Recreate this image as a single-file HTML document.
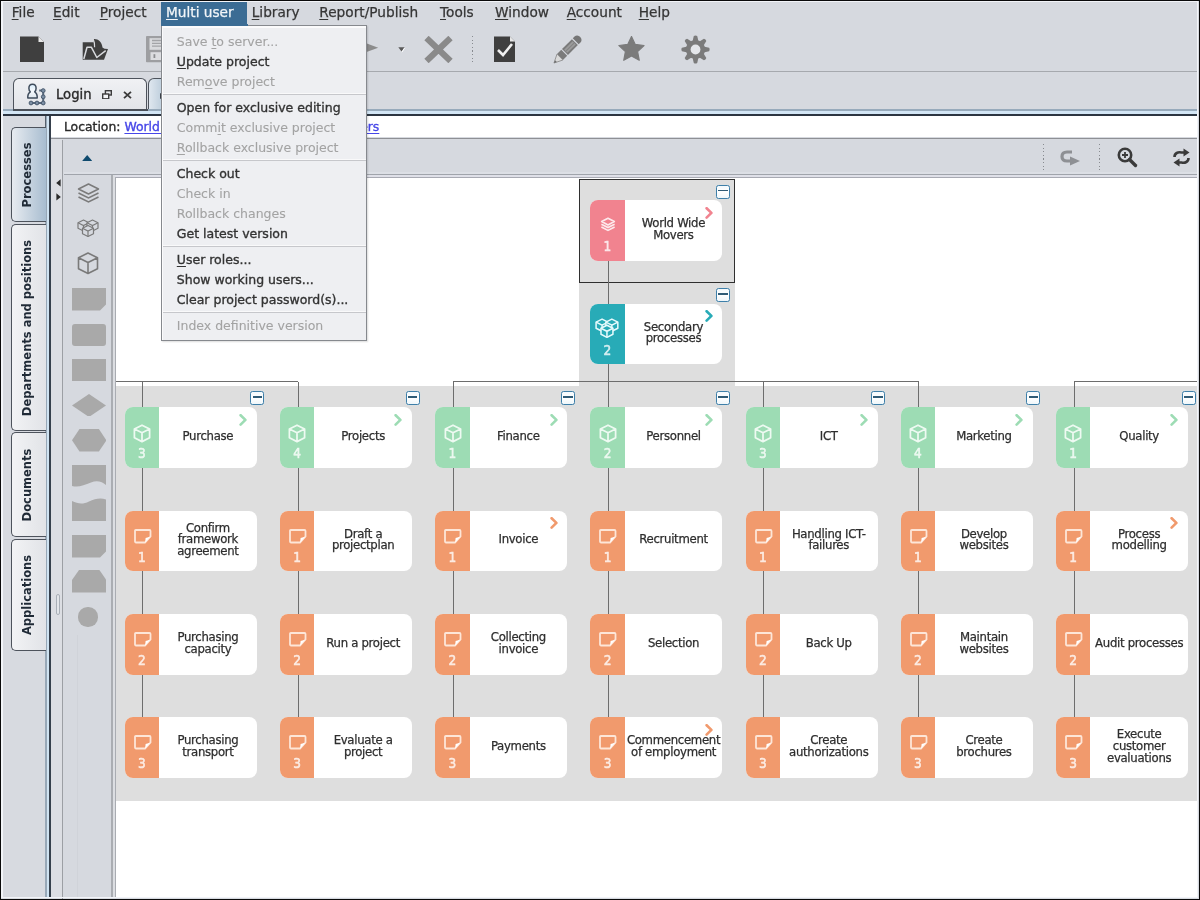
<!DOCTYPE html><html><head><meta charset="utf-8"><title>Multi user</title><style>
*{box-sizing:border-box}
html,body{margin:0;padding:0}
body{width:1200px;height:900px;position:relative;overflow:hidden;background:#d6d9df;font-family:"DejaVu Sans", "Liberation Sans", sans-serif;color:#333}
.a{position:absolute}
.t{position:absolute;white-space:nowrap;line-height:1}
.mb{font-size:13.7px;color:#333;-webkit-text-stroke:0.25px currentColor}
.u{text-decoration:underline;text-underline-offset:2px;text-decoration-thickness:1px}
.mi{position:absolute;left:14.6px;font-size:12.5px;white-space:nowrap;line-height:1;color:#333;-webkit-text-stroke:0.35px currentColor}
.mi.d{-webkit-text-stroke:0.1px currentColor}
.mi.d{color:#a3a3a3}
.sep{position:absolute;left:1.3px;right:0;height:1.3px;background:#c6c7cb;box-shadow:0 -1px 0 #f9f9fa}
.node{position:absolute;width:132px;height:60.5px;border-radius:8px;background:#fff;overflow:hidden}
.strip{position:absolute;left:0;top:0;bottom:0;width:34.5px}
.num{position:absolute;left:0;width:34.5px;text-align:center;top:40px;font-size:13.5px;font-stretch:condensed;line-height:1;color:rgba(255,255,255,.72);-webkit-text-stroke:0.55px rgba(255,255,255,.72)}
.lbl{position:absolute;left:34.5px;right:0;top:0;bottom:3.2px;display:flex;align-items:center;justify-content:center;text-align:center;font-family:"DejaVu Sans Condensed","DejaVu Sans","Liberation Sans",sans-serif;font-size:13px;font-stretch:condensed;letter-spacing:-0.3px;line-height:11.8px;color:#2e2e2e;-webkit-text-stroke:0.25px #2e2e2e}
.chev{position:absolute;right:8.5px;top:6.6px}
.col{position:absolute;width:14px;height:14px;border:1.8px solid #3e7fa9;border-radius:2.5px;background:linear-gradient(#f3f9fc,#ffffff 50%,#eef6fa);box-shadow:0 0 1px #bfe6f5}
.col:after{content:"";position:absolute;left:1.2px;right:1.2px;top:4.3px;height:1.7px;background:#2f5b76}
.vl{position:absolute;width:1.2px;background:#6d6d6d}
.hl{position:absolute;height:1.2px;background:#6d6d6d}
.vt{position:absolute;font-weight:bold;font-size:11.5px;white-space:nowrap;line-height:1;color:#1f2a36;transform-origin:0 0;transform:rotate(-90deg)}
.pal{position:absolute;left:71.6px;width:34.4px;height:22.4px;background:#a9a9a9}
</style></head><body>
<div class="a" style="left:0;top:0;width:1200px;height:900px;border-top:1.3px solid #0a0a0a;border-left:1.3px solid #0a0a0a;border-right:1.6px solid #0a0a0a;border-bottom:1.7px solid #0a0a0a;z-index:50;pointer-events:none"></div>
<div class="a" style="left:1.3px;top:1.3px;width:1197px;height:1.2px;background:#f2f4f8;z-index:49"></div>
<div class="a" style="left:1.3px;top:1.3px;width:1.3px;height:897px;background:#f2f4f8;z-index:49"></div>
<div class="a" style="left:1196.9px;top:1.3px;width:1.5px;height:897px;background:#f2f4f8;z-index:49"></div>
<div class="a" style="left:1.3px;top:897px;width:1197px;height:1.3px;background:#f2f4f8;z-index:49"></div>
<div class="a" style="left:161.2px;top:2.2px;width:85.8px;height:22.8px;background:#3b6c94"></div>
<div class="t mb" style="left:11.7px;top:6px;color:#363636"><span class="u">F</span>ile</div>
<div class="t mb" style="left:53px;top:6px;color:#363636"><span class="u">E</span>dit</div>
<div class="t mb" style="left:99.75px;top:6px;color:#363636"><span class="u">P</span>roject</div>
<div class="t mb" style="left:166px;top:6px;color:#f2f5f8"><span class="u">M</span>ulti user</div>
<div class="t mb" style="left:251.7px;top:6px;color:#363636"><span class="u">L</span>ibrary</div>
<div class="t mb" style="left:319.3px;top:6px;color:#363636"><span class="u">R</span>eport/Publish</div>
<div class="t mb" style="left:440px;top:6px;color:#363636"><span class="u">T</span>ools</div>
<div class="t mb" style="left:495px;top:6px;color:#363636"><span class="u">W</span>indow</div>
<div class="t mb" style="left:566.7px;top:6px;color:#363636"><span class="u">A</span>ccount</div>
<div class="t mb" style="left:638.7px;top:6px;color:#363636"><span class="u">H</span>elp</div>
<div class="a" style="left:2px;top:71.3px;width:1196px;height:1.2px;background:#a6a9ae"></div>
<svg class="a" style="left:19px;top:36px" width="26" height="27" viewBox="0 0 26 27"><path d="M1,0.5 H19.5 L25,6 V26 H1 Z" fill="#3f3f3f"/><path d="M19.5,0.5 V6 H25 Z" fill="#e8e8e8"/></svg>
<svg class="a" style="left:81px;top:37px" width="29" height="25" viewBox="0 0 29 25"><path d="M1.7,5.3 H14 V11 L27,12 L23,22.7 H1.7 Z" fill="#3f3f3f"/><path d="M12.5,2 C17,1.5 21,5 21.5,10.5 L25.5,13.5 L16,21 L9,11 L13.5,11.5 C13.5,8 12.5,5 12.5,2 Z" fill="#3f3f3f"/><path d="M2.8,22 L6,10.2 H10.3 L15.8,20.5 L24.7,13.7" fill="none" stroke="#d9dbdf" stroke-width="1.5" stroke-linejoin="round"/><path d="M12,1.5 C13.3,4.5 13.8,7.5 13.6,10.3" fill="none" stroke="#d9dbdf" stroke-width="1.2"/></svg>
<svg class="a" style="left:146px;top:36.3px" width="22" height="27" viewBox="0 0 22 27"><rect x="0" y="0" width="22" height="26.2" rx="0.8" fill="#9d9ea1"/><rect x="3.5" y="2.2" width="16" height="11.6" fill="#d9dadd"/><path d="M6,4.5h13M6,7.4h13M6,10.2h13" stroke="#a3a4a7" stroke-width="1.3"/><rect x="4.5" y="16.2" width="14" height="7.8" fill="#dcdde0"/><rect x="7.5" y="18.2" width="1.8" height="3.8" fill="#8c8d90"/></svg>
<svg class="a" style="left:356px;top:39px" width="24" height="18" viewBox="0 0 24 18"><path d="M1,0.8 L22.2,8.8 L1,16.6 Z" fill="#8c8c8c"/></svg>
<svg class="a" style="left:397.5px;top:46.5px" width="8" height="6" viewBox="0 0 8 6"><path d="M0.3,0.3 H6.7 L3.5,4.6 Z" fill="#5a5a5a"/><path d="M6.7,0.8 L3.9,5.2" stroke="#fff" stroke-width="1"/></svg>
<svg class="a" style="left:424px;top:36px" width="29" height="27" viewBox="0 0 29 27"><path d="M2.5,2 L26.5,25 M26.5,2 L2.5,25" stroke="#8a8a8a" stroke-width="6.2" stroke-linecap="butt"/></svg>
<div class="a" style="left:471.5px;top:36px;width:1.2px;height:27px;background:repeating-linear-gradient(#888b90 0 1.2px,transparent 1.2px 3.6px)"></div>
<svg class="a" style="left:493px;top:36px" width="23" height="27" viewBox="0 0 23 27"><path d="M1,0.5 H17 L22,5.5 V26 H1 Z" fill="#3f3f3f"/><path d="M17,0.5 V5.5 H22 Z" fill="#e8e8e8"/><path d="M5,14 L10,19 L19,8" stroke="#f0f0f0" stroke-width="2.6" fill="none"/></svg>
<svg class="a" style="left:548px;top:31px" width="39" height="38" viewBox="0 0 39 38"><g transform="translate(19.25 18.75) rotate(45)"><path d="M-4.2,-12 V-14.5 C-4.2,-19.5 4.2,-19.5 4.2,-14.5 V-12 Z" fill="#767676"/><rect x="-4.2" y="-10.8" width="8.4" height="14" fill="#7b7b7b"/><rect x="-2.2" y="-9.8" width="4.4" height="12" fill="#9c9c9c"/><rect x="-0.5" y="-9.8" width="1" height="12" fill="#848484"/><rect x="-4.2" y="4.3" width="8.4" height="6" fill="#7b7b7b"/><path d="M-4.2,10.3 L4.2,10.3 L0,18.8 Z" fill="#dadada" stroke="#8a8a8a" stroke-width="0.8" stroke-linejoin="round"/><path d="M-1.3,16 L1.3,16 L0,18.8 Z" fill="#6d6d6d"/></g></svg>
<svg class="a" style="left:618px;top:36px" width="27" height="26" viewBox="0 0 27 26"><path d="M13.50,0.40 L17.26,8.42 L26.05,9.52 L19.59,15.58 L21.26,24.28 L13.50,20.00 L5.74,24.28 L7.41,15.58 L0.95,9.52 L9.74,8.42 Z" fill="#7b7b7b" stroke="#7b7b7b" stroke-width="1.2" stroke-linejoin="round"/></svg>
<svg class="a" style="left:681px;top:35px" width="29" height="29" viewBox="0 0 29 29"><path d="M11.5,6.5 L12.8,0.9000000000000004 Q14.5,-0.09999999999999964 16.2,0.9000000000000004 L17.5,6.5 Z" fill="#7b7b7b" transform="rotate(0.0 14.5 14.5)"/><path d="M11.5,6.5 L12.8,0.9000000000000004 Q14.5,-0.09999999999999964 16.2,0.9000000000000004 L17.5,6.5 Z" fill="#7b7b7b" transform="rotate(45.0 14.5 14.5)"/><path d="M11.5,6.5 L12.8,0.9000000000000004 Q14.5,-0.09999999999999964 16.2,0.9000000000000004 L17.5,6.5 Z" fill="#7b7b7b" transform="rotate(90.0 14.5 14.5)"/><path d="M11.5,6.5 L12.8,0.9000000000000004 Q14.5,-0.09999999999999964 16.2,0.9000000000000004 L17.5,6.5 Z" fill="#7b7b7b" transform="rotate(135.0 14.5 14.5)"/><path d="M11.5,6.5 L12.8,0.9000000000000004 Q14.5,-0.09999999999999964 16.2,0.9000000000000004 L17.5,6.5 Z" fill="#7b7b7b" transform="rotate(180.0 14.5 14.5)"/><path d="M11.5,6.5 L12.8,0.9000000000000004 Q14.5,-0.09999999999999964 16.2,0.9000000000000004 L17.5,6.5 Z" fill="#7b7b7b" transform="rotate(225.0 14.5 14.5)"/><path d="M11.5,6.5 L12.8,0.9000000000000004 Q14.5,-0.09999999999999964 16.2,0.9000000000000004 L17.5,6.5 Z" fill="#7b7b7b" transform="rotate(270.0 14.5 14.5)"/><path d="M11.5,6.5 L12.8,0.9000000000000004 Q14.5,-0.09999999999999964 16.2,0.9000000000000004 L17.5,6.5 Z" fill="#7b7b7b" transform="rotate(315.0 14.5 14.5)"/><circle cx="14.5" cy="14.5" r="9.6" fill="#7b7b7b"/><circle cx="14.5" cy="14.5" r="4.9" fill="#e4e6ea"/></svg>
<div class="a" style="left:13.3px;top:77.9px;width:133.5px;height:32px;border:1.5px solid #4d535c;border-bottom:none;border-radius:6px 6px 0 0;background:linear-gradient(#f0f1f4,#e2e4e8)"></div>
<svg class="a" style="left:22px;top:80px" width="26" height="27" viewBox="0 0 26 27"><defs><linearGradient id="lg" x1="0" y1="0" x2="0" y2="1"><stop offset="0" stop-color="#d7ecfb"/><stop offset="0.5" stop-color="#f6f9fc"/><stop offset="1" stop-color="#dfe7ee"/></linearGradient></defs><path d="M5.8,18 C5.6,15.5 6.5,13 8.3,11.8 C7.3,10.9 6.9,9.6 6.9,8.2 C6.9,5.6 8.5,4.2 10.5,4.2 C12.5,4.2 14.1,5.6 14.1,8.2 C14.1,9.6 13.7,10.9 12.7,11.8 C14.5,13 15.4,15.5 15.2,18 Z" fill="url(#lg)" stroke="#3f4c5c" stroke-width="1.5" stroke-linejoin="round"/><path d="M17.2,10.4 H21.2 V23.1 H8.4" fill="none" stroke="#56677b" stroke-width="2"/><g fill="#7b8ea3" stroke="#4a5b6f" stroke-width="1"><circle cx="21.2" cy="10.6" r="1.9"/><circle cx="21.2" cy="16.8" r="1.9"/><circle cx="21.2" cy="23" r="1.9"/><circle cx="15" cy="23" r="1.9"/><circle cx="9" cy="23" r="1.9"/></g></svg>
<div class="t" style="left:56px;top:88px;font-size:13.2px;color:#2a2a2a;-webkit-text-stroke:0.35px #2a2a2a">Login</div>
<svg class="a" style="left:102.4px;top:89.5px" width="10" height="9.5" viewBox="0 0 10 9.5"><rect x="3.4" y="0.7" width="5.9" height="4.3" fill="none" stroke="#3c3c3c" stroke-width="1.4"/><rect x="0.7" y="4" width="6" height="4.8" fill="#f4f5f7" stroke="#3c3c3c" stroke-width="1.4"/></svg>
<svg class="a" style="left:123px;top:90.5px" width="9" height="8" viewBox="0 0 9 8"><path d="M1,0.8 L8,7.2 M8,0.8 L1,7.2" stroke="#3a3a3a" stroke-width="1.8"/></svg>
<div class="a" style="left:147.8px;top:77.9px;width:60px;height:33px;border:1.5px solid #4d535c;border-bottom:none;border-radius:6px 6px 0 0;background:linear-gradient(90deg,#dfe7ef,#b3c6d6 30%,#a9bfd2)"></div>
<div class="a" style="left:159.6px;top:92.6px;width:2px;height:6px;border-radius:1px 0 0 1px;background:#3a3f46"></div>
<div class="a" style="left:2px;top:109.3px;width:1196px;height:2.1px;background:#97aabb"></div>
<div class="a" style="left:13.3px;top:109.1px;width:134.5px;height:1.5px;background:#4a5058"></div>
<div class="a" style="left:2px;top:111.4px;width:1196px;height:2.2px;background:#d3e6f5"></div>
<div class="a" style="left:2px;top:113.6px;width:1196px;height:2px;background:#2c3541"></div>
<div class="a" style="left:2px;top:115.6px;width:43px;height:782px;background:#d7dae0"></div>
<div class="a" style="left:44.9px;top:115.6px;width:1.8px;height:782px;background:#98a8b7"></div>
<div class="a" style="left:46.7px;top:115.6px;width:2.1px;height:782px;background:#cfe3f2"></div>
<div class="a" style="left:48.8px;top:115.6px;width:2.3px;height:782px;background:#36404c"></div>
<div class="a" style="left:44.6px;top:115.6px;width:1.5px;height:13px;background:#56616d"></div>
<div class="a" style="left:10.7px;top:127.3px;width:35px;height:95.00000000000001px;border:1.5px solid #4d535c;border-right:none;border-radius:5px 0 0 5px;background:linear-gradient(90deg,#e7ebf0,#a8bdd0)"></div>
<div class="vt" style="left:22.3px;top:174.8px"><span style="display:inline-block;transform:translateX(-50%)">Processes</span></div>
<div class="a" style="left:10.7px;top:224px;width:35px;height:207px;border:1.5px solid #4d535c;border-right:none;border-radius:5px 0 0 5px;background:linear-gradient(90deg,#f2f3f5,#e1e3e7)"></div>
<div class="vt" style="left:22.3px;top:327.5px"><span style="display:inline-block;transform:translateX(-50%)">Departments and positions</span></div>
<div class="a" style="left:10.7px;top:432px;width:35px;height:105.29999999999995px;border:1.5px solid #4d535c;border-right:none;border-radius:5px 0 0 5px;background:linear-gradient(90deg,#f2f3f5,#e1e3e7)"></div>
<div class="vt" style="left:22.3px;top:484.65px"><span style="display:inline-block;transform:translateX(-50%)">Documents</span></div>
<div class="a" style="left:10.7px;top:539px;width:35px;height:112px;border:1.5px solid #4d535c;border-right:none;border-radius:5px 0 0 5px;background:linear-gradient(90deg,#f2f3f5,#e1e3e7)"></div>
<div class="vt" style="left:22.3px;top:595.0px"><span style="display:inline-block;transform:translateX(-50%)">Applications</span></div>
<div class="a" style="left:51.1px;top:115.6px;width:1146px;height:21.7px;background:#fff"></div>
<div class="a" style="left:51.1px;top:137.5px;width:1146px;height:1.1px;background:#8e9095"></div>
<div class="t" style="left:63.9px;top:121.3px;font-size:12.4px;color:#2a2a2a;-webkit-text-stroke:0.35px #2a2a2a">Location: <span style="color:#4646e8;-webkit-text-stroke:0.35px #4646e8;text-decoration:underline;text-underline-offset:2px;text-decoration-thickness:1.2px;word-spacing:-0.25px">World Wide Movers &gt; World Wide Movers</span></div>
<div class="a" style="left:51.1px;top:138.6px;width:10.6px;height:759px;background:#dcdee3"></div>
<div class="a" style="left:61.7px;top:139.8px;width:1.8px;height:759px;background:#9c9fa4"></div>
<svg class="a" style="left:55.5px;top:178.5px" width="5" height="22" viewBox="0 0 5 22"><path d="M4.6,0.2 V7.6 L0.2,3.9 Z" fill="#2a2a2a"/><path d="M0.4,14.2 V21.6 L4.8,17.9 Z" fill="#2a2a2a"/></svg>
<div class="a" style="left:55.5px;top:594px;width:4px;height:21px;border:1px solid #aab0b8;border-radius:2px;background:#e3e6ea"></div>
<div class="a" style="left:63.5px;top:138.6px;width:1133.4px;height:33.1px;background:#d6d9df"></div>
<div class="a" style="left:63.5px;top:171.7px;width:1133.4px;height:2.2px;background:#dcdfe5"></div>
<svg class="a" style="left:81.5px;top:155px" width="10.4" height="6.2" viewBox="0 0 10.4 6.2"><path d="M0,6.2 L5.2,0 L10.4,6.2 Z" fill="#0f4a6e"/></svg>
<div class="a" style="left:63.5px;top:173.8px;width:1133.4px;height:1.5px;background:#a0a4ab"></div>
<div class="a" style="left:113px;top:175.3px;width:1084px;height:1.4px;background:#dfe0e8"></div>
<div class="a" style="left:113px;top:176.7px;width:1084px;height:1.5px;background:#a8aab3"></div>
<div class="a" style="left:1042.6px;top:144px;width:1.2px;height:27px;background:repeating-linear-gradient(#888b90 0 1.2px,transparent 1.2px 3.6px)"></div>
<div class="a" style="left:1099px;top:144px;width:1.2px;height:27px;background:repeating-linear-gradient(#888b90 0 1.2px,transparent 1.2px 3.6px)"></div>
<svg class="a" style="left:1060px;top:148px" width="21" height="18" viewBox="0 0 21 18"><path d="M12,4 H7 C3,4 2,6.5 2,8.5 C2,10.5 3,13 7,13 H10" stroke="#8e9094" stroke-width="3.2" fill="none"/><path d="M10,8.5 L20,13 L10,17.5 Z" fill="#8e9094"/></svg>
<svg class="a" style="left:1117px;top:147px" width="21" height="21" viewBox="0 0 21 21"><circle cx="8" cy="8" r="6.2" stroke="#3a3a3a" stroke-width="2.6" fill="none"/><path d="M12.5,12.5 L18.5,18.5" stroke="#3a3a3a" stroke-width="3.4" stroke-linecap="round"/><path d="M8,5 V11 M5,8 H11" stroke="#3a3a3a" stroke-width="1.8"/></svg>
<svg class="a" style="left:1172px;top:148px" width="19" height="19" viewBox="0 0 19 19"><path d="M2.5,9 C2.5,5 6,3.8 9.5,4.5 L13,4.5" stroke="#3a3a3a" stroke-width="2.6" fill="none"/><path d="M11.5,0.5 L17.5,4.5 L11.5,8.5 Z" fill="#3a3a3a"/><path d="M16.5,10 C16.5,14 13,15.2 9.5,14.5 L6,14.5" stroke="#3a3a3a" stroke-width="2.6" fill="none"/><path d="M7.5,10.5 L1.5,14.5 L7.5,18.5 Z" fill="#3a3a3a"/></svg>
<div class="a" style="left:63.5px;top:175.3px;width:47.6px;height:722px;background:#d6d9df"></div>
<div class="a" style="left:111.1px;top:175.3px;width:1.9px;height:722px;background:#aaadb2"></div>
<div class="a" style="left:113px;top:175.3px;width:1.7px;height:722px;background:#dcdee2"></div>
<div class="a" style="left:114.7px;top:176.7px;width:1.4px;height:721px;background:#a9acb2"></div>
<div class="a" style="left:77px;top:635px;width:1px;height:262px;background:#d0d3d9"></div>
<svg class="a" style="left:77px;top:183px" width="23" height="21" viewBox="0 0 23 21"><path d="M11.5,1 L21.5,6 L11.5,11 L1.5,6 Z" fill="none" stroke="#7a7a7a" stroke-width="1.5" stroke-linejoin="round"/><path d="M1.5,10 L11.5,15 L21.5,10" fill="none" stroke="#7a7a7a" stroke-width="1.5"/><path d="M1.5,14 L11.5,19 L21.5,14" fill="none" stroke="#7a7a7a" stroke-width="1.5"/></svg>
<svg class="a" style="left:77px;top:219px" width="23" height="19" viewBox="0 0 23 19"><path d="M6.5,1 L12,3.75 L12,9.25 L6.5,12.0 L1,9.25 L1,3.75 Z" fill="#d6d9df" stroke="#7a7a7a" stroke-width="1.2" stroke-linejoin="round"/><path d="M1,3.75 L6.5,6.5 L12,3.75 M6.5,6.5 L6.5,12.0" fill="none" stroke="#7a7a7a" stroke-width="1.2"/><path d="M15.5,1 L21,3.75 L21,9.25 L15.5,12.0 L10,9.25 L10,3.75 Z" fill="#d6d9df" stroke="#7a7a7a" stroke-width="1.2" stroke-linejoin="round"/><path d="M10,3.75 L15.5,6.5 L21,3.75 M15.5,6.5 L15.5,12.0" fill="none" stroke="#7a7a7a" stroke-width="1.2"/><path d="M11.0,6.5 L16.5,9.25 L16.5,14.75 L11.0,17.5 L5.5,14.75 L5.5,9.25 Z" fill="#d6d9df" stroke="#7a7a7a" stroke-width="1.2" stroke-linejoin="round"/><path d="M5.5,9.25 L11.0,12.0 L16.5,9.25 M11.0,12.0 L11.0,17.5" fill="none" stroke="#7a7a7a" stroke-width="1.2"/></svg>
<svg class="a" style="left:77px;top:252px" width="22" height="23" viewBox="0 0 22 23"><path d="M11.0,1 L20.5,5.75 L20.5,16.770000000000003 L11.0,21.520000000000003 L1.5,16.770000000000003 L1.5,5.75 Z M1.5,5.75 L11.0,10.5 L20.5,5.75 M11.0,10.5 L11.0,21.520000000000003" fill="none" stroke="#7a7a7a" stroke-width="1.6" stroke-linejoin="round"/></svg>
<svg class="a" style="left:71.6px;top:288px" width="34.4" height="22.6" viewBox="0 0 34.4 22.6"><path d="M0,0 H34.4 V16 L28,22.4 H0 Z" fill="#a9a9a9"/></svg>
<div class="a" style="left:71.6px;top:323.6px;width:34.4px;height:22px;border-radius:3px;background:#a9a9a9"></div>
<div class="a" style="left:71.6px;top:358.6px;width:34.4px;height:22.4px;background:#a9a9a9"></div>
<svg class="a" style="left:71.6px;top:393.6px" width="34.4" height="22.6" viewBox="0 0 34.4 22.6"><path d="M17,0 L34,11.5 L17,23 L0,11.5 Z" fill="#a9a9a9"/></svg>
<svg class="a" style="left:71.6px;top:429px" width="34.4" height="22.6" viewBox="0 0 34.4 22.6"><path d="M7.5,0 H26.9 L34.4,11.3 L26.9,22.6 H7.5 L0,11.3 Z" fill="#a9a9a9"/></svg>
<svg class="a" style="left:71.6px;top:464.6px" width="34.4" height="22.6" viewBox="0 0 34.4 22.6"><path d="M0,0 H34 V20 C30,16.5 25,15 19,17.5 C12,20.5 6,22.5 0,21 Z" fill="#a9a9a9"/></svg>
<svg class="a" style="left:71.6px;top:498px" width="34.4" height="22.6" viewBox="0 0 34.4 22.6"><path d="M0,3 C6,6 11,6.5 17,3.5 C23,0.5 29,-0.5 34,1.5 V23 H0 Z" fill="#a9a9a9"/></svg>
<svg class="a" style="left:71.6px;top:535px" width="34.4" height="22.6" viewBox="0 0 34.4 22.6"><path d="M0,0 H34.4 V16 L28,22.4 H0 Z" fill="#a9a9a9"/></svg>
<svg class="a" style="left:71.6px;top:570px" width="34.4" height="22.6" viewBox="0 0 34.4 22.6"><path d="M7,0 H27.4 L34.4,10 V22.6 H0 V10 Z" fill="#a9a9a9"/></svg>
<div class="a" style="left:78.4px;top:607.4px;width:19.2px;height:19.2px;border-radius:50%;background:#a9a9a9"></div>
<div class="a" style="left:116.1px;top:178.2px;width:1081px;height:720px;background:#fff"></div>
<div class="a" style="left:579.3px;top:179.3px;width:155.3px;height:207px;background:#dedede"></div>
<div class="a" style="left:579.3px;top:179.3px;width:155.5px;height:103.6px;border:1.4px solid #2f2f2f"></div>
<div class="a" style="left:116.4px;top:386px;width:1080.6px;height:414.5px;background:#dedede"></div>
<div class="vl" style="left:142.3px;top:382px;height:335.4px"></div>
<div class="vl" style="left:297.5px;top:382px;height:335.4px"></div>
<div class="vl" style="left:452.7px;top:382px;height:335.4px"></div>
<div class="vl" style="left:607.9px;top:382px;height:335.4px"></div>
<div class="vl" style="left:763.1px;top:382px;height:335.4px"></div>
<div class="vl" style="left:918.3000000000001px;top:382px;height:335.4px"></div>
<div class="vl" style="left:1073.4999999999998px;top:382px;height:335.4px"></div>
<div class="hl" style="left:116.4px;top:381.2px;width:182px"></div>
<div class="hl" style="left:452.7px;top:381.2px;width:466.6000000000001px"></div>
<div class="hl" style="left:1073.4999999999998px;top:381.2px;width:123.50000000000014px"></div>
<div class="vl" style="left:608.2px;top:261px;height:146px"></div>
<div class="col" style="left:716px;top:184.5px"></div>
<div class="col" style="left:716px;top:288px"></div>
<div class="col" style="left:250.4px;top:391px"></div>
<div class="col" style="left:405.59999999999997px;top:391px"></div>
<div class="col" style="left:560.8px;top:391px"></div>
<div class="col" style="left:716.0px;top:391px"></div>
<div class="col" style="left:871.2px;top:391px"></div>
<div class="col" style="left:1026.4px;top:391px"></div>
<div class="col" style="left:1181.6px;top:391px"></div>
<div class="node" style="left:590.2px;top:200.3px"><div class="strip" style="background:#f1838f"></div><svg class="a" style="left:9.4px;top:17.2px" width="16" height="15" viewBox="0 0 16 15"><path d="M8,1.3 L14.3,4.6 L8,7.9 L1.7,4.6 Z" fill="none" stroke="#fde9ec" stroke-width="1.7" stroke-linejoin="round"/><path d="M1.4,7.2 L8,10.6 L14.6,7.2" fill="none" stroke="#fde9ec" stroke-width="1.7"/><path d="M1.4,10 L8,13.4 L14.6,10" fill="none" stroke="#fde9ec" stroke-width="1.7"/></svg><div class="num">1</div><div class="lbl"><div>World Wide<br>Movers</div></div><svg class="chev" width="9" height="12" viewBox="0 0 9 12"><path d="M1.6,1.2 L6.4,5.9 L1.6,10.6" fill="none" stroke="#f1838f" stroke-width="2.6" stroke-linecap="round" stroke-linejoin="round"/></svg></div>
<div class="node" style="left:590.2px;top:303.8px"><div class="strip" style="background:#28abb7"></div><svg class="a" style="left:4.5px;top:14px" width="25" height="21" viewBox="0 0 23 19" preserveAspectRatio="none"><path d="M6.5,1 L12,3.75 L12,9.25 L6.5,12.0 L1,9.25 L1,3.75 Z" fill="#28abb7" stroke="#e6fafc" stroke-width="1.4" stroke-linejoin="round"/><path d="M1,3.75 L6.5,6.5 L12,3.75 M6.5,6.5 L6.5,12.0" fill="none" stroke="#e6fafc" stroke-width="1.4"/><path d="M15.5,1 L21,3.75 L21,9.25 L15.5,12.0 L10,9.25 L10,3.75 Z" fill="#28abb7" stroke="#e6fafc" stroke-width="1.4" stroke-linejoin="round"/><path d="M10,3.75 L15.5,6.5 L21,3.75 M15.5,6.5 L15.5,12.0" fill="none" stroke="#e6fafc" stroke-width="1.4"/><path d="M11.0,6.5 L16.5,9.25 L16.5,14.75 L11.0,17.5 L5.5,14.75 L5.5,9.25 Z" fill="#28abb7" stroke="#e6fafc" stroke-width="1.4" stroke-linejoin="round"/><path d="M5.5,9.25 L11.0,12.0 L16.5,9.25 M11.0,12.0 L11.0,17.5" fill="none" stroke="#e6fafc" stroke-width="1.4"/></svg><div class="num">2</div><div class="lbl"><div>Secondary<br>processes</div></div><svg class="chev" width="9" height="12" viewBox="0 0 9 12"><path d="M1.6,1.2 L6.4,5.9 L1.6,10.6" fill="none" stroke="#28abb7" stroke-width="2.6" stroke-linecap="round" stroke-linejoin="round"/></svg></div>
<div class="node" style="left:124.7px;top:407.3px"><div class="strip" style="background:#9ddcb4"></div><svg class="a" style="left:8.6px;top:16.6px" width="18" height="19" viewBox="0 0 18 19"><path d="M9.0,1.2 L16.599999999999998,5.0 L16.599999999999998,13.815999999999999 L9.0,17.616 L1.4,13.815999999999999 L1.4,5.0 Z M1.4,5.0 L9.0,8.799999999999999 L16.599999999999998,5.0 M9.0,8.799999999999999 L9.0,17.616" fill="none" stroke="#eefaf2" stroke-width="1.75" stroke-linejoin="round"/></svg><div class="num">3</div><div class="lbl"><div>Purchase</div></div><svg class="chev" width="9" height="12" viewBox="0 0 9 12"><path d="M1.6,1.2 L6.4,5.9 L1.6,10.6" fill="none" stroke="#9ddcb4" stroke-width="2.6" stroke-linecap="round" stroke-linejoin="round"/></svg></div>
<div class="node" style="left:124.7px;top:510.7px"><div class="strip" style="background:#f19a6d"></div><svg class="a" style="left:9px;top:18px" width="18" height="15" viewBox="0 0 18 15"><path d="M1.8,1 H15.5 C16.2,1 16.5,1.4 16.5,2 V7.5 L11,13.5 H1.8 C1.3,13.5 1,13.2 1,12.6 V1.9 C1,1.3 1.3,1 1.8,1 Z" fill="none" stroke="#fde6d8" stroke-width="1.8"/><path d="M16.2,7.8 L11.2,13.3 L11.6,9 Z" fill="#fff"/></svg><div class="num">1</div><div class="lbl"><div>Confirm<br>framework<br>agreement</div></div></div>
<div class="node" style="left:124.7px;top:614.0px"><div class="strip" style="background:#f19a6d"></div><svg class="a" style="left:9px;top:18px" width="18" height="15" viewBox="0 0 18 15"><path d="M1.8,1 H15.5 C16.2,1 16.5,1.4 16.5,2 V7.5 L11,13.5 H1.8 C1.3,13.5 1,13.2 1,12.6 V1.9 C1,1.3 1.3,1 1.8,1 Z" fill="none" stroke="#fde6d8" stroke-width="1.8"/><path d="M16.2,7.8 L11.2,13.3 L11.6,9 Z" fill="#fff"/></svg><div class="num">2</div><div class="lbl"><div>Purchasing<br>capacity</div></div></div>
<div class="node" style="left:124.7px;top:717.4px"><div class="strip" style="background:#f19a6d"></div><svg class="a" style="left:9px;top:18px" width="18" height="15" viewBox="0 0 18 15"><path d="M1.8,1 H15.5 C16.2,1 16.5,1.4 16.5,2 V7.5 L11,13.5 H1.8 C1.3,13.5 1,13.2 1,12.6 V1.9 C1,1.3 1.3,1 1.8,1 Z" fill="none" stroke="#fde6d8" stroke-width="1.8"/><path d="M16.2,7.8 L11.2,13.3 L11.6,9 Z" fill="#fff"/></svg><div class="num">3</div><div class="lbl"><div>Purchasing<br>transport</div></div></div>
<div class="node" style="left:279.9px;top:407.3px"><div class="strip" style="background:#9ddcb4"></div><svg class="a" style="left:8.6px;top:16.6px" width="18" height="19" viewBox="0 0 18 19"><path d="M9.0,1.2 L16.599999999999998,5.0 L16.599999999999998,13.815999999999999 L9.0,17.616 L1.4,13.815999999999999 L1.4,5.0 Z M1.4,5.0 L9.0,8.799999999999999 L16.599999999999998,5.0 M9.0,8.799999999999999 L9.0,17.616" fill="none" stroke="#eefaf2" stroke-width="1.75" stroke-linejoin="round"/></svg><div class="num">4</div><div class="lbl"><div>Projects</div></div><svg class="chev" width="9" height="12" viewBox="0 0 9 12"><path d="M1.6,1.2 L6.4,5.9 L1.6,10.6" fill="none" stroke="#9ddcb4" stroke-width="2.6" stroke-linecap="round" stroke-linejoin="round"/></svg></div>
<div class="node" style="left:279.9px;top:510.7px"><div class="strip" style="background:#f19a6d"></div><svg class="a" style="left:9px;top:18px" width="18" height="15" viewBox="0 0 18 15"><path d="M1.8,1 H15.5 C16.2,1 16.5,1.4 16.5,2 V7.5 L11,13.5 H1.8 C1.3,13.5 1,13.2 1,12.6 V1.9 C1,1.3 1.3,1 1.8,1 Z" fill="none" stroke="#fde6d8" stroke-width="1.8"/><path d="M16.2,7.8 L11.2,13.3 L11.6,9 Z" fill="#fff"/></svg><div class="num">1</div><div class="lbl"><div>Draft a<br>projectplan</div></div></div>
<div class="node" style="left:279.9px;top:614.0px"><div class="strip" style="background:#f19a6d"></div><svg class="a" style="left:9px;top:18px" width="18" height="15" viewBox="0 0 18 15"><path d="M1.8,1 H15.5 C16.2,1 16.5,1.4 16.5,2 V7.5 L11,13.5 H1.8 C1.3,13.5 1,13.2 1,12.6 V1.9 C1,1.3 1.3,1 1.8,1 Z" fill="none" stroke="#fde6d8" stroke-width="1.8"/><path d="M16.2,7.8 L11.2,13.3 L11.6,9 Z" fill="#fff"/></svg><div class="num">2</div><div class="lbl"><div>Run a project</div></div></div>
<div class="node" style="left:279.9px;top:717.4px"><div class="strip" style="background:#f19a6d"></div><svg class="a" style="left:9px;top:18px" width="18" height="15" viewBox="0 0 18 15"><path d="M1.8,1 H15.5 C16.2,1 16.5,1.4 16.5,2 V7.5 L11,13.5 H1.8 C1.3,13.5 1,13.2 1,12.6 V1.9 C1,1.3 1.3,1 1.8,1 Z" fill="none" stroke="#fde6d8" stroke-width="1.8"/><path d="M16.2,7.8 L11.2,13.3 L11.6,9 Z" fill="#fff"/></svg><div class="num">3</div><div class="lbl"><div>Evaluate a<br>project</div></div></div>
<div class="node" style="left:435.09999999999997px;top:407.3px"><div class="strip" style="background:#9ddcb4"></div><svg class="a" style="left:8.6px;top:16.6px" width="18" height="19" viewBox="0 0 18 19"><path d="M9.0,1.2 L16.599999999999998,5.0 L16.599999999999998,13.815999999999999 L9.0,17.616 L1.4,13.815999999999999 L1.4,5.0 Z M1.4,5.0 L9.0,8.799999999999999 L16.599999999999998,5.0 M9.0,8.799999999999999 L9.0,17.616" fill="none" stroke="#eefaf2" stroke-width="1.75" stroke-linejoin="round"/></svg><div class="num">1</div><div class="lbl"><div>Finance</div></div><svg class="chev" width="9" height="12" viewBox="0 0 9 12"><path d="M1.6,1.2 L6.4,5.9 L1.6,10.6" fill="none" stroke="#9ddcb4" stroke-width="2.6" stroke-linecap="round" stroke-linejoin="round"/></svg></div>
<div class="node" style="left:435.09999999999997px;top:510.7px"><div class="strip" style="background:#f19a6d"></div><svg class="a" style="left:9px;top:18px" width="18" height="15" viewBox="0 0 18 15"><path d="M1.8,1 H15.5 C16.2,1 16.5,1.4 16.5,2 V7.5 L11,13.5 H1.8 C1.3,13.5 1,13.2 1,12.6 V1.9 C1,1.3 1.3,1 1.8,1 Z" fill="none" stroke="#fde6d8" stroke-width="1.8"/><path d="M16.2,7.8 L11.2,13.3 L11.6,9 Z" fill="#fff"/></svg><div class="num">1</div><div class="lbl"><div>Invoice</div></div><svg class="chev" width="9" height="12" viewBox="0 0 9 12"><path d="M1.6,1.2 L6.4,5.9 L1.6,10.6" fill="none" stroke="#f19a6d" stroke-width="2.6" stroke-linecap="round" stroke-linejoin="round"/></svg></div>
<div class="node" style="left:435.09999999999997px;top:614.0px"><div class="strip" style="background:#f19a6d"></div><svg class="a" style="left:9px;top:18px" width="18" height="15" viewBox="0 0 18 15"><path d="M1.8,1 H15.5 C16.2,1 16.5,1.4 16.5,2 V7.5 L11,13.5 H1.8 C1.3,13.5 1,13.2 1,12.6 V1.9 C1,1.3 1.3,1 1.8,1 Z" fill="none" stroke="#fde6d8" stroke-width="1.8"/><path d="M16.2,7.8 L11.2,13.3 L11.6,9 Z" fill="#fff"/></svg><div class="num">2</div><div class="lbl"><div>Collecting<br>invoice</div></div></div>
<div class="node" style="left:435.09999999999997px;top:717.4px"><div class="strip" style="background:#f19a6d"></div><svg class="a" style="left:9px;top:18px" width="18" height="15" viewBox="0 0 18 15"><path d="M1.8,1 H15.5 C16.2,1 16.5,1.4 16.5,2 V7.5 L11,13.5 H1.8 C1.3,13.5 1,13.2 1,12.6 V1.9 C1,1.3 1.3,1 1.8,1 Z" fill="none" stroke="#fde6d8" stroke-width="1.8"/><path d="M16.2,7.8 L11.2,13.3 L11.6,9 Z" fill="#fff"/></svg><div class="num">3</div><div class="lbl"><div>Payments</div></div></div>
<div class="node" style="left:590.3px;top:407.3px"><div class="strip" style="background:#9ddcb4"></div><svg class="a" style="left:8.6px;top:16.6px" width="18" height="19" viewBox="0 0 18 19"><path d="M9.0,1.2 L16.599999999999998,5.0 L16.599999999999998,13.815999999999999 L9.0,17.616 L1.4,13.815999999999999 L1.4,5.0 Z M1.4,5.0 L9.0,8.799999999999999 L16.599999999999998,5.0 M9.0,8.799999999999999 L9.0,17.616" fill="none" stroke="#eefaf2" stroke-width="1.75" stroke-linejoin="round"/></svg><div class="num">2</div><div class="lbl"><div>Personnel</div></div><svg class="chev" width="9" height="12" viewBox="0 0 9 12"><path d="M1.6,1.2 L6.4,5.9 L1.6,10.6" fill="none" stroke="#9ddcb4" stroke-width="2.6" stroke-linecap="round" stroke-linejoin="round"/></svg></div>
<div class="node" style="left:590.3px;top:510.7px"><div class="strip" style="background:#f19a6d"></div><svg class="a" style="left:9px;top:18px" width="18" height="15" viewBox="0 0 18 15"><path d="M1.8,1 H15.5 C16.2,1 16.5,1.4 16.5,2 V7.5 L11,13.5 H1.8 C1.3,13.5 1,13.2 1,12.6 V1.9 C1,1.3 1.3,1 1.8,1 Z" fill="none" stroke="#fde6d8" stroke-width="1.8"/><path d="M16.2,7.8 L11.2,13.3 L11.6,9 Z" fill="#fff"/></svg><div class="num">1</div><div class="lbl"><div>Recruitment</div></div></div>
<div class="node" style="left:590.3px;top:614.0px"><div class="strip" style="background:#f19a6d"></div><svg class="a" style="left:9px;top:18px" width="18" height="15" viewBox="0 0 18 15"><path d="M1.8,1 H15.5 C16.2,1 16.5,1.4 16.5,2 V7.5 L11,13.5 H1.8 C1.3,13.5 1,13.2 1,12.6 V1.9 C1,1.3 1.3,1 1.8,1 Z" fill="none" stroke="#fde6d8" stroke-width="1.8"/><path d="M16.2,7.8 L11.2,13.3 L11.6,9 Z" fill="#fff"/></svg><div class="num">2</div><div class="lbl"><div>Selection</div></div></div>
<div class="node" style="left:590.3px;top:717.4px"><div class="strip" style="background:#f19a6d"></div><svg class="a" style="left:9px;top:18px" width="18" height="15" viewBox="0 0 18 15"><path d="M1.8,1 H15.5 C16.2,1 16.5,1.4 16.5,2 V7.5 L11,13.5 H1.8 C1.3,13.5 1,13.2 1,12.6 V1.9 C1,1.3 1.3,1 1.8,1 Z" fill="none" stroke="#fde6d8" stroke-width="1.8"/><path d="M16.2,7.8 L11.2,13.3 L11.6,9 Z" fill="#fff"/></svg><div class="num">3</div><div class="lbl"><div>Commencement<br>of employment</div></div><svg class="chev" width="9" height="12" viewBox="0 0 9 12"><path d="M1.6,1.2 L6.4,5.9 L1.6,10.6" fill="none" stroke="#f19a6d" stroke-width="2.6" stroke-linecap="round" stroke-linejoin="round"/></svg></div>
<div class="node" style="left:745.5px;top:407.3px"><div class="strip" style="background:#9ddcb4"></div><svg class="a" style="left:8.6px;top:16.6px" width="18" height="19" viewBox="0 0 18 19"><path d="M9.0,1.2 L16.599999999999998,5.0 L16.599999999999998,13.815999999999999 L9.0,17.616 L1.4,13.815999999999999 L1.4,5.0 Z M1.4,5.0 L9.0,8.799999999999999 L16.599999999999998,5.0 M9.0,8.799999999999999 L9.0,17.616" fill="none" stroke="#eefaf2" stroke-width="1.75" stroke-linejoin="round"/></svg><div class="num">3</div><div class="lbl"><div>ICT</div></div><svg class="chev" width="9" height="12" viewBox="0 0 9 12"><path d="M1.6,1.2 L6.4,5.9 L1.6,10.6" fill="none" stroke="#9ddcb4" stroke-width="2.6" stroke-linecap="round" stroke-linejoin="round"/></svg></div>
<div class="node" style="left:745.5px;top:510.7px"><div class="strip" style="background:#f19a6d"></div><svg class="a" style="left:9px;top:18px" width="18" height="15" viewBox="0 0 18 15"><path d="M1.8,1 H15.5 C16.2,1 16.5,1.4 16.5,2 V7.5 L11,13.5 H1.8 C1.3,13.5 1,13.2 1,12.6 V1.9 C1,1.3 1.3,1 1.8,1 Z" fill="none" stroke="#fde6d8" stroke-width="1.8"/><path d="M16.2,7.8 L11.2,13.3 L11.6,9 Z" fill="#fff"/></svg><div class="num">1</div><div class="lbl"><div>Handling ICT-<br>failures</div></div></div>
<div class="node" style="left:745.5px;top:614.0px"><div class="strip" style="background:#f19a6d"></div><svg class="a" style="left:9px;top:18px" width="18" height="15" viewBox="0 0 18 15"><path d="M1.8,1 H15.5 C16.2,1 16.5,1.4 16.5,2 V7.5 L11,13.5 H1.8 C1.3,13.5 1,13.2 1,12.6 V1.9 C1,1.3 1.3,1 1.8,1 Z" fill="none" stroke="#fde6d8" stroke-width="1.8"/><path d="M16.2,7.8 L11.2,13.3 L11.6,9 Z" fill="#fff"/></svg><div class="num">2</div><div class="lbl"><div>Back Up</div></div></div>
<div class="node" style="left:745.5px;top:717.4px"><div class="strip" style="background:#f19a6d"></div><svg class="a" style="left:9px;top:18px" width="18" height="15" viewBox="0 0 18 15"><path d="M1.8,1 H15.5 C16.2,1 16.5,1.4 16.5,2 V7.5 L11,13.5 H1.8 C1.3,13.5 1,13.2 1,12.6 V1.9 C1,1.3 1.3,1 1.8,1 Z" fill="none" stroke="#fde6d8" stroke-width="1.8"/><path d="M16.2,7.8 L11.2,13.3 L11.6,9 Z" fill="#fff"/></svg><div class="num">3</div><div class="lbl"><div>Create<br>authorizations</div></div></div>
<div class="node" style="left:900.7px;top:407.3px"><div class="strip" style="background:#9ddcb4"></div><svg class="a" style="left:8.6px;top:16.6px" width="18" height="19" viewBox="0 0 18 19"><path d="M9.0,1.2 L16.599999999999998,5.0 L16.599999999999998,13.815999999999999 L9.0,17.616 L1.4,13.815999999999999 L1.4,5.0 Z M1.4,5.0 L9.0,8.799999999999999 L16.599999999999998,5.0 M9.0,8.799999999999999 L9.0,17.616" fill="none" stroke="#eefaf2" stroke-width="1.75" stroke-linejoin="round"/></svg><div class="num">4</div><div class="lbl"><div>Marketing</div></div><svg class="chev" width="9" height="12" viewBox="0 0 9 12"><path d="M1.6,1.2 L6.4,5.9 L1.6,10.6" fill="none" stroke="#9ddcb4" stroke-width="2.6" stroke-linecap="round" stroke-linejoin="round"/></svg></div>
<div class="node" style="left:900.7px;top:510.7px"><div class="strip" style="background:#f19a6d"></div><svg class="a" style="left:9px;top:18px" width="18" height="15" viewBox="0 0 18 15"><path d="M1.8,1 H15.5 C16.2,1 16.5,1.4 16.5,2 V7.5 L11,13.5 H1.8 C1.3,13.5 1,13.2 1,12.6 V1.9 C1,1.3 1.3,1 1.8,1 Z" fill="none" stroke="#fde6d8" stroke-width="1.8"/><path d="M16.2,7.8 L11.2,13.3 L11.6,9 Z" fill="#fff"/></svg><div class="num">1</div><div class="lbl"><div>Develop<br>websites</div></div></div>
<div class="node" style="left:900.7px;top:614.0px"><div class="strip" style="background:#f19a6d"></div><svg class="a" style="left:9px;top:18px" width="18" height="15" viewBox="0 0 18 15"><path d="M1.8,1 H15.5 C16.2,1 16.5,1.4 16.5,2 V7.5 L11,13.5 H1.8 C1.3,13.5 1,13.2 1,12.6 V1.9 C1,1.3 1.3,1 1.8,1 Z" fill="none" stroke="#fde6d8" stroke-width="1.8"/><path d="M16.2,7.8 L11.2,13.3 L11.6,9 Z" fill="#fff"/></svg><div class="num">2</div><div class="lbl"><div>Maintain<br>websites</div></div></div>
<div class="node" style="left:900.7px;top:717.4px"><div class="strip" style="background:#f19a6d"></div><svg class="a" style="left:9px;top:18px" width="18" height="15" viewBox="0 0 18 15"><path d="M1.8,1 H15.5 C16.2,1 16.5,1.4 16.5,2 V7.5 L11,13.5 H1.8 C1.3,13.5 1,13.2 1,12.6 V1.9 C1,1.3 1.3,1 1.8,1 Z" fill="none" stroke="#fde6d8" stroke-width="1.8"/><path d="M16.2,7.8 L11.2,13.3 L11.6,9 Z" fill="#fff"/></svg><div class="num">3</div><div class="lbl"><div>Create<br>brochures</div></div></div>
<div class="node" style="left:1055.8999999999999px;top:407.3px"><div class="strip" style="background:#9ddcb4"></div><svg class="a" style="left:8.6px;top:16.6px" width="18" height="19" viewBox="0 0 18 19"><path d="M9.0,1.2 L16.599999999999998,5.0 L16.599999999999998,13.815999999999999 L9.0,17.616 L1.4,13.815999999999999 L1.4,5.0 Z M1.4,5.0 L9.0,8.799999999999999 L16.599999999999998,5.0 M9.0,8.799999999999999 L9.0,17.616" fill="none" stroke="#eefaf2" stroke-width="1.75" stroke-linejoin="round"/></svg><div class="num">1</div><div class="lbl"><div>Quality</div></div><svg class="chev" width="9" height="12" viewBox="0 0 9 12"><path d="M1.6,1.2 L6.4,5.9 L1.6,10.6" fill="none" stroke="#9ddcb4" stroke-width="2.6" stroke-linecap="round" stroke-linejoin="round"/></svg></div>
<div class="node" style="left:1055.8999999999999px;top:510.7px"><div class="strip" style="background:#f19a6d"></div><svg class="a" style="left:9px;top:18px" width="18" height="15" viewBox="0 0 18 15"><path d="M1.8,1 H15.5 C16.2,1 16.5,1.4 16.5,2 V7.5 L11,13.5 H1.8 C1.3,13.5 1,13.2 1,12.6 V1.9 C1,1.3 1.3,1 1.8,1 Z" fill="none" stroke="#fde6d8" stroke-width="1.8"/><path d="M16.2,7.8 L11.2,13.3 L11.6,9 Z" fill="#fff"/></svg><div class="num">1</div><div class="lbl"><div>Process<br>modelling</div></div><svg class="chev" width="9" height="12" viewBox="0 0 9 12"><path d="M1.6,1.2 L6.4,5.9 L1.6,10.6" fill="none" stroke="#f19a6d" stroke-width="2.6" stroke-linecap="round" stroke-linejoin="round"/></svg></div>
<div class="node" style="left:1055.8999999999999px;top:614.0px"><div class="strip" style="background:#f19a6d"></div><svg class="a" style="left:9px;top:18px" width="18" height="15" viewBox="0 0 18 15"><path d="M1.8,1 H15.5 C16.2,1 16.5,1.4 16.5,2 V7.5 L11,13.5 H1.8 C1.3,13.5 1,13.2 1,12.6 V1.9 C1,1.3 1.3,1 1.8,1 Z" fill="none" stroke="#fde6d8" stroke-width="1.8"/><path d="M16.2,7.8 L11.2,13.3 L11.6,9 Z" fill="#fff"/></svg><div class="num">2</div><div class="lbl"><div>Audit processes</div></div></div>
<div class="node" style="left:1055.8999999999999px;top:717.4px"><div class="strip" style="background:#f19a6d"></div><svg class="a" style="left:9px;top:18px" width="18" height="15" viewBox="0 0 18 15"><path d="M1.8,1 H15.5 C16.2,1 16.5,1.4 16.5,2 V7.5 L11,13.5 H1.8 C1.3,13.5 1,13.2 1,12.6 V1.9 C1,1.3 1.3,1 1.8,1 Z" fill="none" stroke="#fde6d8" stroke-width="1.8"/><path d="M16.2,7.8 L11.2,13.3 L11.6,9 Z" fill="#fff"/></svg><div class="num">3</div><div class="lbl"><div>Execute<br>customer<br>evaluations</div></div></div>
<div class="a" style="left:161.2px;top:24.6px;width:205.6px;height:316.9px;background:#eeeff2;border:1.2px solid #86898e;z-index:40;box-shadow:1px 1px 1.5px rgba(0,0,0,.14)"><div class="a" style="left:0;top:0;right:0;height:2px;background:#fbfbfc"></div><div class="a" style="left:0;top:0;bottom:0;width:1.3px;background:#fbfbfc"></div><div class="a" style="left:-1.2px;top:-1.2px;width:86.5px;height:1.4px;background:#3b6c94"></div><div class="mi d" style="top:10px">Save <span class="u">t</span>o server...</div><div class="mi" style="top:30px"><span class="u">U</span>pdate project</div><div class="mi d" style="top:50px">Rem<span class="u">o</span>ve project</div><div class="sep" style="top:68.2px"></div><div class="mi" style="top:76px">Open for exclusive editing</div><div class="mi d" style="top:96px">Comm<span class="u">i</span>t exclusive project</div><div class="mi d" style="top:116px"><span class="u">R</span>ollback exclusive project</div><div class="sep" style="top:134.2px"></div><div class="mi" style="top:142px">Check out</div><div class="mi d" style="top:162px">Check in</div><div class="mi d" style="top:182px">Rollback changes</div><div class="mi" style="top:202px">Get latest version</div><div class="sep" style="top:220.2px"></div><div class="mi" style="top:228px"><span class="u">U</span>ser roles...</div><div class="mi" style="top:248px">Show working users...</div><div class="mi" style="top:268px">Clear project password(s)...</div><div class="sep" style="top:286.2px"></div><div class="mi d" style="top:294px">Index definitive version</div></div>
</body></html>
